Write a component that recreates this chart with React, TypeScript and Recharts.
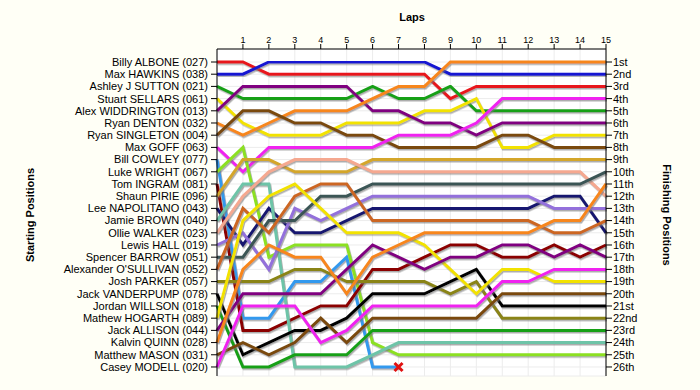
import { CartesianGrid, Line, LineChart, XAxis, YAxis } from 'recharts';

const laps = [0, 1, 2, 3, 4, 5, 6, 7, 8, 9, 10, 11, 12, 13, 14, 15];
const lapTicks = [1, 2, 3, 4, 5, 6, 7, 8, 9, 10, 11, 12, 13, 14, 15];

const drivers = [
  'Billy ALBONE (027)', 'Max HAWKINS (038)', 'Ashley J SUTTON (021)', 'Stuart SELLARS (061)',
  'Alex WIDDRINGTON (013)', 'Ryan DENTON (032)', 'Ryan SINGLETON (004)', 'Max GOFF (063)',
  'Bill COWLEY (077)', 'Luke WRIGHT (067)', 'Tom INGRAM (081)', 'Shaun PIRIE (096)',
  'Lee NAPOLITANO (043)', 'Jamie BROWN (040)', 'Ollie WALKER (023)', 'Lewis HALL (019)',
  'Spencer BARROW (051)', "Alexander O'SULLIVAN (052)", 'Josh PARKER (057)', 'Jack VANDERPUMP (078)',
  'Jordan WILLSON (018)', 'Mathew HOGARTH (089)', 'Jack ALLISON (044)', 'Kalvin QUINN (028)',
  'Matthew MASON (031)', 'Casey MODELL (020)',
];

const finishLabels = [
  '1st', '2nd', '3rd', '4th', '5th', '6th', '7th', '8th', '9th', '10th', '11th', '12th', '13th',
  '14th', '15th', '16th', '17th', '18th', '19th', '20th', '21st', '22nd', '23rd', '24th', '25th', '26th',
];

// position of each driver at the end of every lap (lap 0 = grid)
const albone = [1, 1, 2, 2, 2, 2, 2, 2, 2, 4, 3, 3, 3, 3, 3, 3];
const hawkins = [2, 2, 1, 1, 1, 1, 1, 1, 1, 2, 2, 2, 2, 2, 2, 2];
const sutton = [3, 4, 4, 4, 4, 4, 3, 4, 4, 3, 5, 5, 5, 5, 5, 5];
const sellars = [4, 6, 7, 7, 7, 6, 6, 6, 5, 5, 4, 8, 8, 7, 7, 7];
const widdrington = [5, 3, 3, 3, 3, 3, 5, 5, 6, 6, 7, 6, 6, 6, 6, 6];
const denton = [6, 7, 6, 5, 5, 5, 4, 3, 3, 1, 1, 1, 1, 1, 1, 1];
const singleton = [7, 5, 5, 6, 6, 7, 7, 8, 8, 8, 8, 7, 7, 8, 8, 8];
const goff = [8, 10, 8, 8, 8, 8, 8, 7, 7, 7, 6, 4, 4, 4, 4, 4];
const cowley = [9, 22, 22, 19, 19, 17, 26, 26];
const wright = [10, 8, 17, 16, 16, 16, 24, 25, 25, 25, 25, 25, 25, 25, 25, 25];
const ingram = [11, 23, 23, 22, 21, 21, 18, 18, 17, 16, 16, 17, 17, 16, 17, 16];
const pirie = [12, 9, 9, 10, 10, 10, 9, 9, 9, 9, 9, 9, 9, 9, 9, 9];
const napolitano = [13, 16, 13, 15, 15, 14, 13, 13, 13, 13, 13, 13, 13, 12, 12, 15];
const brown = [14, 11, 11, 26, 26, 26, 25, 24, 24, 24, 24, 24, 24, 24, 24, 24];
const walker = [15, 12, 10, 9, 9, 9, 10, 10, 10, 10, 10, 10, 10, 10, 10, 12];
const hall = [16, 15, 18, 13, 14, 13, 12, 12, 12, 12, 12, 12, 12, 13, 13, 13];
const barrow = [17, 17, 14, 14, 12, 12, 11, 11, 11, 11, 11, 11, 11, 11, 11, 10];
const osullivan = [18, 13, 15, 12, 11, 11, 14, 14, 14, 14, 14, 14, 14, 15, 15, 14];
const parker = [19, 19, 19, 18, 18, 19, 19, 19, 19, 20, 19, 22, 22, 22, 22, 22];
const vanderpump = [20, 25, 24, 23, 23, 22, 20, 20, 20, 19, 18, 21, 21, 21, 21, 21];
const willson = [21, 26, 26, 25, 25, 25, 23, 23, 23, 23, 23, 23, 23, 23, 23, 23];
const hogarth = [22, 14, 12, 11, 13, 15, 15, 15, 16, 18, 20, 18, 18, 19, 19, 19];
const allison = [23, 20, 20, 20, 20, 18, 16, 17, 18, 17, 17, 16, 16, 17, 16, 17];
const quinn = [24, 18, 16, 17, 17, 20, 17, 16, 15, 15, 15, 15, 15, 14, 14, 11];
const mason = [25, 24, 25, 24, 22, 24, 22, 22, 22, 22, 22, 20, 20, 20, 20, 20];
const modell = [26, 21, 21, 21, 24, 23, 21, 21, 21, 21, 21, 19, 19, 18, 18, 18];

const positions = [
  albone, hawkins, sutton, sellars, widdrington, denton, singleton, goff, cowley, wright, ingram, pirie,
  napolitano, brown, walker, hall, barrow, osullivan, parker, vanderpump, willson, hogarth, allison,
  quinn, mason, modell,
];

const colors = [
  '#e8151b', '#1414d2', '#18a018', '#f2e200', '#800080', '#f7861b', '#7a4a0e', '#f020f0',
  '#3399ee', '#8ce020', '#8b0000', '#d4a62a', '#191970', '#6ec4a8', '#f5a890', '#9370db',
  '#3a5555', '#cc6622', '#8a8412', '#000000', '#18a018', '#f2e200', '#800080', '#f7861b',
  '#7a4a0e', '#f020f0',
];

const data = laps.map((lap, i) => {
  const row: Record<string, number | null> = { lap };
  positions.forEach((p, k) => {
    row['d' + k] = p[i] ?? null;
  });
  return row;
});

const font = 'Liberation Sans, Arial, sans-serif';

const RetiredMark = (props: any) => {
  const { cx, cy, index } = props;
  if (index !== cowley.length - 1 || cx == null) return <g key={'x' + index} />;
  return (
    <g key={'x' + index}>
      <path d={`M${cx - 4},${cy - 4}L${cx + 4},${cy + 4}M${cx + 4},${cy - 4}L${cx - 4},${cy + 4}`} stroke="#e01010" strokeWidth={3} />
    </g>
  );
};

export default function App() {
  return (
    <div style={{ position: 'absolute', left: 0, top: 0, width: 700, height: 390, background: '#fffff6', fontFamily: font }}>
      <style>{'body{margin:0}.recharts-line-curve{filter:url(#lapShadow)}'}</style>
      <svg width={0} height={0} style={{ position: 'absolute' }}>
        <defs>
          <filter id="lapShadow" x="-5%" y="-5%" width="110%" height="120%">
            <feDropShadow dx={1} dy={1.5} stdDeviation={0.6} floodColor="#777" floodOpacity={0.6} />
          </filter>
        </defs>
      </svg>
      <LineChart width={700} height={390} data={data} margin={{ top: 0, right: 0, left: 0, bottom: 14 }}>
        <CartesianGrid yAxisId="left" stroke="#ececec" fill="#ffffff" />
        <XAxis
          dataKey="lap"
          type="number"
          orientation="top"
          domain={[0, 15]}
          ticks={lapTicks}
          height={49}
          tickSize={5}
          tickMargin={1}
          axisLine={{ stroke: '#000' }}
          tickLine={{ stroke: '#000' }}
          tick={{ fontSize: 9, fill: '#000', fontFamily: font }}
        />
        <YAxis
          yAxisId="left"
          type="number"
          domain={[-0.066, 26.74]}
          reversed
          ticks={drivers.map((_, i) => i + 1)}
          interval={0}
          width={217}
          tickSize={6}
          tickMargin={3}
          allowDataOverflow
          axisLine={{ stroke: '#000' }}
          tickLine={{ stroke: '#000' }}
          tickFormatter={(v) => drivers[Number(v) - 1] ?? ''}
          tick={{ fontSize: 11, fill: '#000', fontFamily: font }}
        />
        <YAxis
          yAxisId="right"
          orientation="right"
          type="number"
          domain={[-0.066, 26.74]}
          reversed
          ticks={drivers.map((_, i) => i + 1)}
          interval={0}
          width={94}
          tickSize={6}
          tickMargin={1}
          allowDataOverflow
          axisLine={{ stroke: '#000' }}
          tickLine={{ stroke: '#000' }}
          tickFormatter={(v) => finishLabels[Number(v) - 1] ?? ''}
          tick={{ fontSize: 11, fill: '#000', fontFamily: font }}
        />
        {positions.map((p, k) => (
          <Line
            key={k}
            yAxisId={k === 0 ? 'right' : 'left'}
            type="linear"
            dataKey={'d' + k}
            stroke={colors[k]}
            strokeWidth={3}
            dot={p === cowley ? RetiredMark : false}
            activeDot={false}
            connectNulls={false}
            isAnimationActive={false}
          />
        ))}
      </LineChart>
      <div style={{ position: 'absolute', left: 0, width: 824, top: 11, textAlign: 'center', fontSize: 11, fontWeight: 'bold' }}>Laps</div>
      <div style={{ position: 'absolute', left: 30, top: 215, width: 0, height: 0 }}>
        <div style={{ position: 'absolute', transform: 'translate(-50%,-50%) rotate(-90deg)', whiteSpace: 'nowrap', fontSize: 11, fontWeight: 'bold' }}>Starting Positions</div>
      </div>
      <div style={{ position: 'absolute', left: 667, top: 215, width: 0, height: 0 }}>
        <div style={{ position: 'absolute', transform: 'translate(-50%,-50%) rotate(90deg)', whiteSpace: 'nowrap', fontSize: 11, fontWeight: 'bold' }}>Finishing Positions</div>
      </div>
    </div>
  );
}
